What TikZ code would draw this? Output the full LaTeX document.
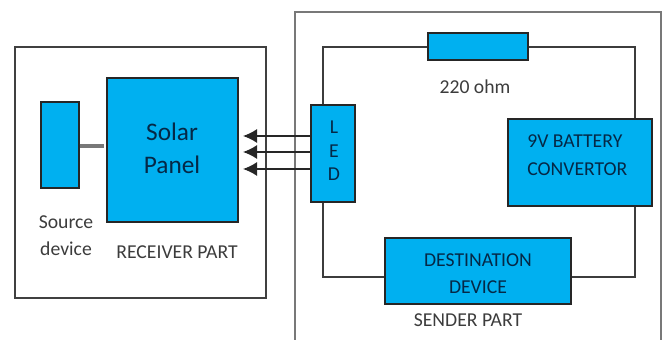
\documentclass[tikz,border=0pt]{standalone}
\usepackage{fontspec}
\setmainfont{Carlito}
\usepackage{tikz}
\usetikzlibrary{arrows.meta}
\definecolor{panelBlue}{RGB}{0,176,240}
\definecolor{wireGrey}{RGB}{60,60,60}
\definecolor{frameGrey}{RGB}{120,120,120}
\definecolor{labelGrey}{RGB}{60,60,60}
\definecolor{boxText}{RGB}{5,40,70}

\begin{document}
\begin{tikzpicture}[
  x=0.02cm, y=-0.02cm,
  font=\fontsize{11.2}{13}\selectfont,
  unit/.style={draw=black!85, fill=panelBlue, line width=0.8pt, inner sep=0pt, text=boxText},
  wire/.style={draw=wireGrey, line width=0.9pt},
  link/.style={draw=frameGrey, line width=2pt},
  beam/.style={draw=black!85, line width=0.8pt, -{Latex[length=8pt,width=8pt]}},
  caption/.style={text=labelGrey, inner sep=0pt},
  inbox/.style={text=boxText, inner sep=0pt}
]
\useasboundingbox (0,0) rectangle (665,340);
\node[draw=black!75, line width=0.8pt, minimum width=5.02cm, minimum height=5.02cm, inner sep=0pt] (receiver) at (140.5,172.5) {};
\draw[draw=frameGrey, line width=1pt] (295,340) -- (295,12) -- (661,12) -- (661,340);

\coordinate (cornerTL) at (323,47);
\coordinate (cornerTR) at (635,47);
\coordinate (cornerBR) at (635,277);
\coordinate (cornerBL) at (323,277);
\coordinate (sourceEnd) at (104,146);

\node[unit, minimum width=0.76cm, minimum height=1.72cm] (source) at (60,145) {};
\node[unit, minimum width=2.62cm, minimum height=2.88cm] (solar) at (172.5,150) {};
\node[unit, minimum width=0.88cm, minimum height=1.94cm] (led) at (333,153.5) {};
\node[unit, minimum width=2.00cm, minimum height=0.54cm] (resistor) at (478,46.5) {};
\node[unit, minimum width=2.88cm, minimum height=1.74cm] (battery) at (580,162.5) {};
\node[unit, minimum width=3.72cm, minimum height=1.32cm] (destination) at (478,271) {};

\draw[link] (source.east |- sourceEnd) -- (sourceEnd);
\draw[wire] (resistor.west |- cornerTL) -- (cornerTL) -- (cornerTL |- led.north);
\draw[wire] (resistor.east |- cornerTR) -- (cornerTR) -- (cornerTR |- battery.north);
\draw[wire] (cornerBR |- battery.south) -- (cornerBR) -- (destination.east |- cornerBR);
\draw[wire] (destination.west |- cornerBL) -- (cornerBL) -- (cornerBL |- led.south);

\foreach \i/\y in {1/136,2/152,3/169} {
  \coordinate (beamEnd\i) at (243,\y);
  \draw[beam] (led.west |- beamEnd\i) -- (beamEnd\i);
}

\node[caption] (sourceLabel) at (66,222) {Source};
\node[caption] (deviceLabel) at (66,249) {device};
\node[caption] (receiverLabel) at (177,252) {RECEIVER PART};
\node[caption] (ohmLabel) at (475,87) {220 ohm};
\node[caption] (senderLabel) at (468,320) {SENDER PART};

\node[inbox, font=\fontsize{14.4}{16}\selectfont] (solarLabel) at (172,132) {Solar};
\node[inbox, font=\fontsize{14.4}{16}\selectfont] (panelLabel) at (172,165) {Panel};
\node[inbox] (ledL) at (334,127) {L};
\node[inbox] (ledE) at (334,151) {E};
\node[inbox] (ledD) at (334,174) {D};
\node[inbox, anchor=west] (batteryLabel) at (527,141) {9V BATTERY};
\node[inbox, anchor=west] (convertorLabel) at (527,169) {CONVERTOR};
\node[inbox] (destLabel) at (478,260) {DESTINATION};
\node[inbox] (deviceName) at (478,287) {DEVICE};
\end{tikzpicture}
\end{document}
